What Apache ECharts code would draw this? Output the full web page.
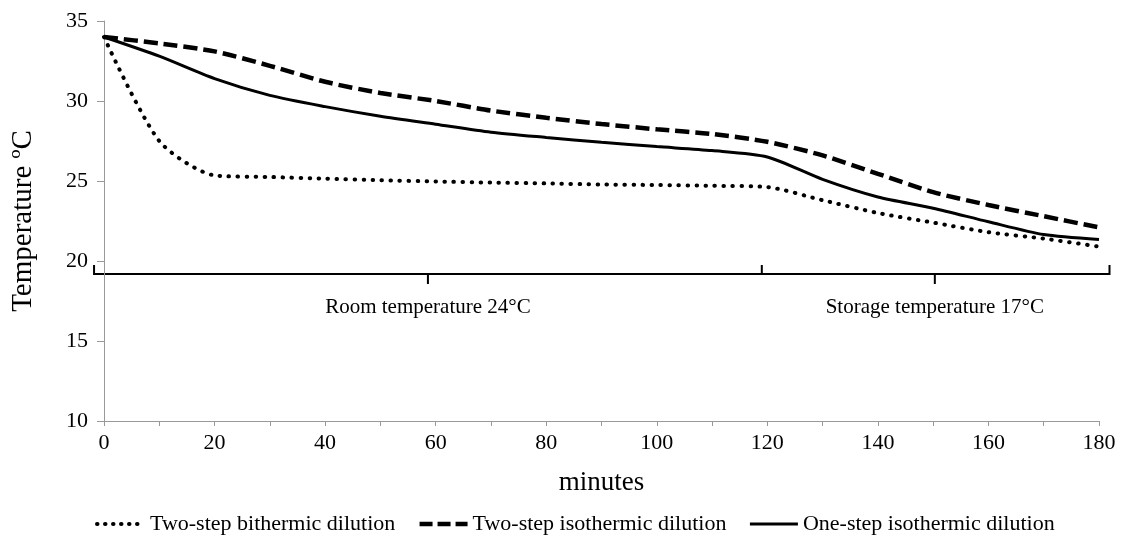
<!DOCTYPE html>
<html>
<head>
<meta charset="utf-8">
<script src="https://cdn.jsdelivr.net/npm/echarts@6/dist/echarts.min.js"></script>
<style>
  html, body { margin: 0; padding: 0; background: #fff; }
  #main { width: 1121px; height: 546px; }
</style>
</head>
<body>
<div id="main"></div>
<script>
// minutes
const minutes = [0, 10, 20, 30, 40, 50, 60, 70, 80, 90, 100, 110, 120, 130, 140, 150, 160, 170, 180];

// temperatures
const bithermic = [34, 27.5, 25.35, 25.25, 25.15, 25.05, 24.97, 24.9, 24.85, 24.78, 24.75, 24.7, 24.62, 23.8, 23.0, 22.4, 21.8, 21.4, 20.9];
const isothermicTwo = [34, 33.6, 33.1, 32.2, 31.2, 30.5, 30.0, 29.4, 28.95, 28.56, 28.23, 27.94, 27.45, 26.6, 25.45, 24.3, 23.5, 22.8, 22.1];
const isothermicOne = [34, 32.8, 31.4, 30.35, 29.65, 29.05, 28.55, 28.05, 27.72, 27.42, 27.15, 26.9, 26.5, 25.1, 24.0, 23.3, 22.45, 21.65, 21.35];

// brace under the curves (minutes, temperature)
const brace = [[-1.8, 19.75], [-1.8, 19.19], [58.6, 19.19], [58.6, 18.56], [58.6, 19.19], [119, 19.19], [119, 19.75],
               [119, 19.19], [150.3, 19.19], [150.3, 18.56], [150.3, 19.19], [181.9, 19.19], [181.9, 19.75]];
const periodText = ['Room temperature 24°C', 'Storage temperature 17°C'];
const periodPos = [[58.6, 17.1], [150.3, 17.1]];

const font = '"Liberation Serif", "Times New Roman", serif';
const pair = arr => minutes.map((m, i) => [m, arr[i]]);

let myChart = echarts.init(document.getElementById('main'));
let options = {
  animation: false,
  textStyle: { fontFamily: font, color: '#000' },
  grid: { left: 104, right: 22, top: 21, bottom: 125 },
  xAxis: {
    type: 'value',
    min: 0,
    max: 180,
    interval: 10,
    name: 'minutes',
    nameLocation: 'middle',
    nameGap: 48,
    nameTextStyle: { fontFamily: font, fontSize: 27, color: '#000' },
    axisLine: { lineStyle: { color: '#999' } },
    axisTick: { show: true, length: 5, lineStyle: { color: '#999' } },
    splitLine: { show: false },
    axisLabel: {
      fontFamily: font, fontSize: 22, color: '#000', margin: 11,
      formatter: v => (v % 20 === 0 ? v : '')
    }
  },
  yAxis: {
    type: 'value',
    min: 10,
    max: 35,
    interval: 5,
    name: 'Temperature ºC',
    nameLocation: 'middle',
    nameGap: 66,
    nameTextStyle: { fontFamily: font, fontSize: 29, color: '#000' },
    axisLine: { show: true, lineStyle: { color: '#999' } },
    axisTick: { show: true, length: 7, lineStyle: { color: '#999' } },
    splitLine: { show: false },
    axisLabel: { fontFamily: font, fontSize: 22, color: '#000', margin: 16 }
  },
  legend: {
    bottom: 6,
    left: 90,
    itemWidth: 48,
    itemHeight: 12,
    itemGap: 22,
    itemStyle: { opacity: 0 },
    lineStyle: { width: 'inherit' },
    textStyle: { fontFamily: font, fontSize: 22, color: '#000' },
    data: [
      { name: 'Two-step bithermic dilution', lineStyle: { width: 4, type: [0.5, 7.5], cap: 'round' } },
      { name: 'Two-step isothermic dilution', lineStyle: { width: 4.5, type: [13, 5] } },
      { name: 'One-step isothermic dilution', lineStyle: { width: 3 } }
    ]
  },
  series: [
    {
      name: 'Two-step bithermic dilution',
      type: 'line',
      smooth: 0.25,
      symbol: 'none',
      data: pair(bithermic),
      lineStyle: { color: '#000', width: 4, type: [0.5, 8.5], cap: 'round' },
      itemStyle: { color: '#000' }
    },
    {
      name: 'Two-step isothermic dilution',
      type: 'line',
      smooth: 0.25,
      symbol: 'none',
      data: pair(isothermicTwo),
      lineStyle: { color: '#000', width: 4.5, type: [14, 6] },
      itemStyle: { color: '#000' }
    },
    {
      name: 'One-step isothermic dilution',
      type: 'line',
      smooth: 0.25,
      symbol: 'none',
      data: pair(isothermicOne),
      lineStyle: { color: '#000', width: 3 },
      itemStyle: { color: '#000' }
    }
  ]
};
myChart.setOption(options, true);

// brace and period labels, placed in data coordinates
const toPx = p => myChart.convertToPixel({ gridIndex: 0 }, p);
myChart.setOption({
  graphic: [
    {
      type: 'polyline',
      shape: { points: brace.map(toPx) },
      style: { stroke: '#000', lineWidth: 2, fill: null }
    }
  ].concat(periodText.map((t, i) => {
    const p = toPx(periodPos[i]);
    return {
      type: 'text',
      x: p[0],
      y: p[1],
      style: { text: t, font: '21px ' + font, fill: '#000', align: 'center', verticalAlign: 'middle' }
    };
  }))
});
</script>
</body>
</html>
